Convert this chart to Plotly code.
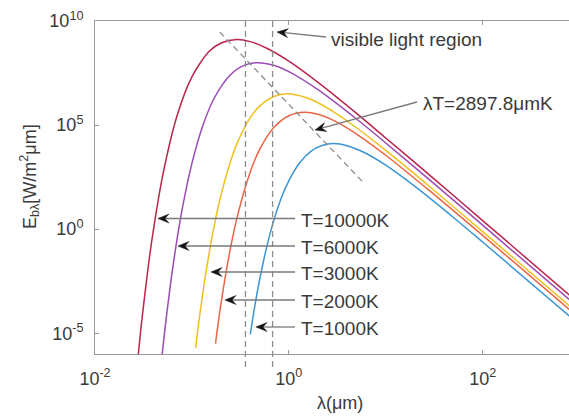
import numpy as np
import plotly.graph_objects as go

# ---------------- data ----------------
temps = [10000, 6000, 3000, 2000, 1000]
labels = ["T=10000K", "T=6000K", "T=3000K", "T=2000K", "T=1000K"]
colors = ["#b8254a", "#9b4bb6", "#f0c020", "#ec6444", "#3b95d3"]

lam_10000 = [0.027, 0.03, 0.035, 0.04, 0.05, 0.07, 0.1, 0.15, 0.2, 0.29, 0.4, 0.6, 1, 2, 5, 10, 30, 100, 1000]
logE_10000 = [-6.72, -4.64, -2.00, -0.06, 2.58, 5.42, 7.32, 8.53, 8.94, 9.11, 9.01, 8.68, 8.07, 7.05, 5.56, 4.38, 2.50, 0.41, -3.59]

lam_6000 = [0.049, 0.055, 0.065, 0.08, 0.1, 0.13, 0.17, 0.25, 0.35, 0.483, 0.7, 1, 2, 5, 10, 30, 100, 1000]
logE_6000 = [-6.13, -4.07, -1.51, 1.04, 3.16, 4.99, 6.30, 7.42, 7.88, 8.00, 7.87, 7.57, 6.70, 5.29, 4.14, 2.27, 0.19, -3.81]

lam_3000 = [0.109, 0.12, 0.14, 0.17, 0.2, 0.25, 0.3, 0.4, 0.5, 0.7, 0.966, 1.5, 2, 3, 5, 10, 30, 100, 1000]
logE_3000 = [-5.72, -4.18, -2.04, 0.17, 1.65, 3.25, 4.24, 5.36, 5.91, 6.37, 6.50, 6.32, 6.07, 5.59, 4.87, 3.78, 1.95, -0.12, -4.11]

lam_2000 = [0.175, 0.2, 0.25, 0.3, 0.4, 0.5, 0.7, 1, 1.449, 2, 3, 5, 10, 30, 100, 1000]
logE_2000 = [-5.50, -3.55, -0.91, 0.77, 2.75, 3.83, 4.88, 5.45, 5.62, 5.52, 5.19, 4.57, 3.55, 1.75, -0.30, -4.29]

lam_1000 = [0.40, 0.45, 0.5, 0.6, 0.7, 0.85, 1, 1.3, 1.7, 2.2, 2.898, 4, 6, 10, 20, 50, 100, 1000]
logE_1000 = [-5.06, -3.58, -2.42, -0.73, 0.42, 1.58, 2.32, 3.20, 3.75, 4.02, 4.11, 4.01, 3.68, 3.07, 2.05, 0.56, -0.62, -4.59]

lams = [lam_10000, lam_6000, lam_3000, lam_2000, lam_1000]
logEs = [logE_10000, logE_6000, logE_3000, logE_2000, logE_1000]

# Wien displacement guide line (end points)
wien_lam = [0.194, 5.81]
wien_logE = [9.47, 2.26]

# visible light region boundaries (um)
visible_lam = [0.357, 0.68]

x_tickvals = [1e-2, 1e0, 1e2]
x_ticktext = ["10<sup>-2</sup>", "10<sup>0</sup>", "10<sup>2</sup>"]
y_tickvals = [1e-5, 1e0, 1e5, 1e10]
y_ticktext = ["10<sup>-5</sup>", "10<sup>0</sup>", "10<sup>5</sup>", "10<sup>10</sup>"]

# ---------------- layout geometry ----------------
W, H = 569, 418
ML, MR, MT, MB = 95, 0, 21, 64
PW, PH = W - ML - MR, H - MT - MB
XR = [-2, 2.891]
YR = [-6, 10]

def px(xpix):
    return (xpix - ML) / PW

def py(ypix):
    return (H - MB - ypix) / PH

def fx(lam):
    return (np.log10(lam) - XR[0]) / (XR[1] - XR[0])

FONT = "Liberation Sans, Arial, sans-serif"
TXT = "#3a3a3a"
AX = "#9a9a9a"

fig = go.Figure()

for lam, le, c, lab in zip(lams, logEs, colors, labels):
    fig.add_trace(go.Scatter(
        x=lam, y=[10 ** v for v in le], mode="lines", name=lab,
        line=dict(color=c, width=1.5, shape="spline", smoothing=0.8),
        showlegend=False, hoverinfo="skip"))

fig.add_trace(go.Scatter(
    x=wien_lam, y=[10 ** v for v in wien_logE], mode="lines",
    line=dict(color="#8c8c8c", width=1.3, dash="6px,4px"),
    showlegend=False, hoverinfo="skip"))

shapes = []
for vl in visible_lam:
    shapes.append(dict(type="line", xref="paper", yref="paper",
                       x0=fx(vl), x1=fx(vl), y0=1, y1=py(369),
                       line=dict(color="#8c8c8c", width=1.3, dash="6px,4px")))

annotations = []

def arrow(tail, tip, text_pos, text):
    (tx, ty), (hx, hy) = tail, tip
    d = np.hypot(tx - hx, ty - hy)
    ux, uy = (tx - hx) / d, (ty - hy) / d
    nx, ny = -uy, ux
    L, Wd, notch = 11.0, 9.0, 7.0
    shapes.append(dict(type="line", xref="paper", yref="paper",
                       x0=px(tx), y0=py(ty), x1=px(hx + ux * notch), y1=py(hy + uy * notch),
                       line=dict(color="#7a7a7a", width=1.3)))
    pts = [(hx, hy),
           (hx + ux * L + nx * Wd / 2, hy + uy * L + ny * Wd / 2),
           (hx + ux * notch, hy + uy * notch),
           (hx + ux * L - nx * Wd / 2, hy + uy * L - ny * Wd / 2)]
    path = "M " + " L ".join(f"{px(a):.5f},{py(b):.5f}" for a, b in pts) + " Z"
    shapes.append(dict(type="path", xref="paper", yref="paper", path=path,
                       fillcolor="#151515", line=dict(color="#151515", width=0.5)))
    annotations.append(dict(xref="paper", yref="paper",
                            x=px(text_pos[0]), y=py(text_pos[1]),
                            xanchor="left", yanchor="middle", text=text,
                            showarrow=False,
                            font=dict(family=FONT, size=19, color=TXT)))

arrow_y = [218.5, 246, 272, 300, 327]
tip_x = [158, 178, 211, 225, 256]
for lab, yy, tx in zip(labels, arrow_y, tip_x):
    arrow((295, yy), (tx, yy), (299, yy + 1.5), lab)

arrow((326, 37), (277, 32), (329, 39), "visible light region")
arrow((417, 102), (315, 130), (421, 103), "λT=2897.8μmK")

# axis titles
annotations.append(dict(xref="paper", yref="paper", x=px(340), y=py(403),
                        text="λ(μm)", showarrow=False, xanchor="center", yanchor="middle",
                        font=dict(family=FONT, size=18, color=TXT)))
annotations.append(dict(xref="paper", yref="paper", x=px(29), y=py(177),
                        text="E<sub>bλ</sub>[W/m<sup>2</sup>μm]", textangle=-90,
                        showarrow=False, xanchor="center", yanchor="middle",
                        font=dict(family=FONT, size=18, color=TXT)))

fig.update_layout(
    width=W, height=H,
    margin=dict(l=ML, r=MR, t=MT, b=MB),
    paper_bgcolor="white", plot_bgcolor="white",
    shapes=shapes, annotations=annotations,
    font=dict(family=FONT, color=TXT),
)
fig.update_xaxes(type="log", range=XR, showgrid=False, zeroline=False,
                 showline=True, linecolor=AX, linewidth=1, mirror="ticks",
                 ticks="inside", ticklen=4, tickcolor=AX,
                 tickvals=x_tickvals, ticktext=x_ticktext,
                 tickfont=dict(family=FONT, size=18, color=TXT),
                 ticklabelstandoff=8)
fig.update_yaxes(type="log", range=YR, showgrid=False, zeroline=False,
                 showline=True, linecolor=AX, linewidth=1, mirror=False,
                 ticks="inside", ticklen=4, tickcolor=AX,
                 tickvals=y_tickvals, ticktext=y_ticktext,
                 tickfont=dict(family=FONT, size=18, color=TXT),
                 ticklabelstandoff=7)

fig.write_html("out.html")
